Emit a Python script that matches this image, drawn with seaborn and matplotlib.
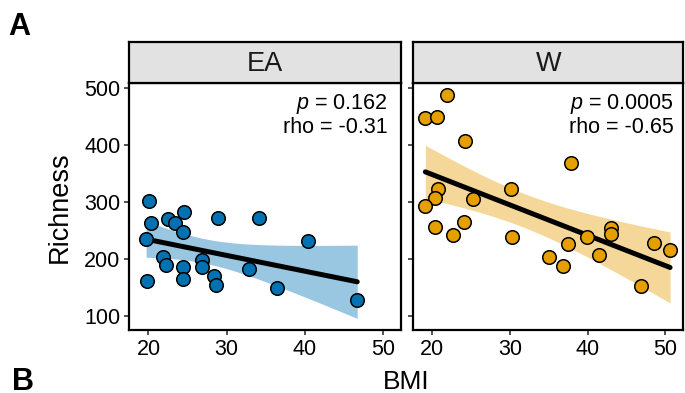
import numpy as np
import pandas as pd
import matplotlib
matplotlib.use("Agg")
import matplotlib.pyplot as plt
import seaborn as sns

# ---- data ----
ea_bmi = [20.1, 20.3, 22.5, 23.4, 24.5, 24.4, 19.7, 28.9, 34.1, 40.4, 21.8,
          22.3, 24.4, 26.9, 26.8, 28.4, 28.7, 24.4, 19.8, 32.8, 36.5, 46.7]
ea_rich = [301, 263, 269, 263, 282, 246, 234, 271, 272, 231, 203,
           189, 185, 198, 186, 170, 154, 164, 161, 182, 148, 127]
w_bmi = [21.9, 19.1, 20.6, 24.2, 37.8, 20.7, 20.4, 19.1, 25.2, 30.1, 20.3, 22.6,
         24.1, 30.2, 35.0, 36.8, 37.4, 39.9, 41.4, 43.0, 43.0, 46.9, 48.5, 50.6]
w_rich = [487, 447, 448, 406, 368, 322, 306, 292, 305, 322, 256, 242,
          264, 238, 203, 188, 226, 238, 206, 253, 243, 152, 227, 216]
groups = ["EA", "W"]
colors = ["#0072B2", "#E69F00"]
p_labels = ["0.162", "0.0005"]
rho_labels = ["-0.31", "-0.65"]
x_ticks = [20, 30, 40, 50]
y_ticks = [100, 200, 300, 400, 500]

df = pd.DataFrame({
    "BMI": ea_bmi + w_bmi,
    "Richness": ea_rich + w_rich,
    "group": ["EA"] * len(ea_bmi) + ["W"] * len(w_bmi),
})

sns.set_style("ticks")
plt.rcParams["font.family"] = ["Liberation Sans", "DejaVu Sans"]
plt.rcParams["mathtext.fontset"] = "custom"
plt.rcParams["mathtext.it"] = "Liberation Sans:italic"
plt.rcParams["mathtext.rm"] = "Liberation Sans"
plt.rcParams["text.color"] = "black"
plt.rcParams["axes.labelcolor"] = "black"

W, H = 685, 393
fig = plt.figure(figsize=(W / 100, H / 100), dpi=100)

def fx(px):
    return px / W

def fy(py):
    return 1 - py / H

panel_left = [129.3, 413.3]
panel_w = [271.7, 270.0]
top_px, bot_px, strip_top = 83.3, 330.0, 41.7
ann_x = [50.6, 51.1]


def t_quant(dfree, z=1.959964):
    return (z + (z**3 + z) / (4 * dfree)
            + (5 * z**5 + 16 * z**3 + 3 * z) / (96 * dfree**2))


axes = []
for i, g in enumerate(groups):
    ax = fig.add_axes([fx(panel_left[i]), fy(bot_px), panel_w[i] / W,
                       (bot_px - top_px) / H])
    axes.append(ax)
    sub = df[df["group"] == g]
    x = sub["BMI"].to_numpy(float)
    y = sub["Richness"].to_numpy(float)
    # confidence band (lm, 95%)
    n = len(x)
    b1, b0 = np.polyfit(x, y, 1)
    res = y - (b0 + b1 * x)
    s = np.sqrt(np.sum(res**2) / (n - 2))
    xs = np.linspace(x.min(), x.max(), 100)
    se = s * np.sqrt(1 / n + (xs - x.mean())**2 / np.sum((x - x.mean())**2))
    tq = t_quant(n - 2)
    yh = b0 + b1 * xs
    ax.fill_between(xs, yh - tq * se, yh + tq * se, color=colors[i],
                    alpha=0.4, lw=0, zorder=1)
    sns.regplot(data=sub, x="BMI", y="Richness", ax=ax, scatter=False,
                ci=None, color="black", line_kws={"lw": 3.6, "zorder": 2},
                truncate=True)
    sns.scatterplot(data=sub, x="BMI", y="Richness", ax=ax, color=colors[i],
                    s=95, edgecolor="black", linewidth=1.1, zorder=3,
                    legend=False)
    ax.set_xlim(17.55, 52.3)
    ax.set_ylim(75, 507.5)
    ax.set_xticks(x_ticks)
    ax.set_yticks(y_ticks)
    ax.set_xlabel("")
    ax.set_ylabel("")
    for sp in ax.spines.values():
        sp.set_visible(True)
        sp.set_color("black")
        sp.set_linewidth(1.6)
    ax.tick_params(axis="both", direction="out", length=3.8, width=1.2,
                   color="#333333", labelsize=15.5, labelcolor="black", pad=2.5)
    if i == 1:
        ax.tick_params(axis="y", labelleft=False)
    ax.text(ann_x[i], 472, "$p$ = " + p_labels[i], ha="right", va="center",
            fontsize=15.5, color="black")
    ax.text(ann_x[i], 430, "rho = " + rho_labels[i], ha="right", va="center",
            fontsize=15.5, color="black")
    # strip
    sax = fig.add_axes([fx(panel_left[i]), fy(top_px), panel_w[i] / W,
                        (top_px - strip_top) / H])
    sax.set_facecolor("#E2E2E3")
    sax.set_xticks([])
    sax.set_yticks([])
    for sp in sax.spines.values():
        sp.set_visible(True)
        sp.set_color("black")
        sp.set_linewidth(1.6)
    sax.text(0.5, 0.47, g, ha="center", va="center", fontsize=19.5,
             color="#1A1A1A", transform=sax.transAxes)

fig.text(fx(406), fy(389), "BMI", ha="center", va="baseline", fontsize=19)
fig.text(fx(60), fy(206.7), "Richness", ha="center", va="center",
         rotation=90, fontsize=19.5)
fig.text(fx(8), fy(35), "A", ha="left", va="baseline", fontsize=22,
         fontweight="bold")
fig.text(fx(12), fy(390), "B", ha="left", va="baseline", fontsize=22,
         fontweight="bold")

fig.savefig("out.png", dpi=100)
